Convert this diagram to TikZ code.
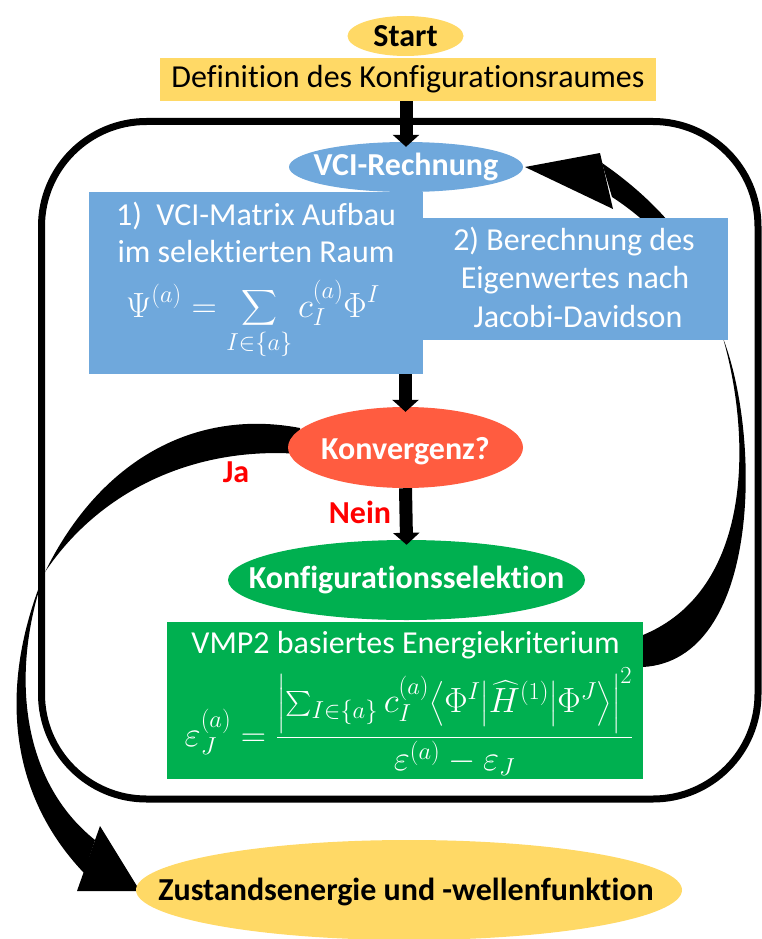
\documentclass[tikz,border=0pt]{standalone}
\usepackage{fix-cm}
\usepackage{amsmath}
\usepackage{fontspec}
\setmainfont{Carlito}[Ligatures={NoCommon,NoContextual},Contextuals={NoAlternate}]
\usetikzlibrary{shapes.geometric,arrows.meta}

\definecolor{gold}{HTML}{FFD966}
\definecolor{skyblue}{HTML}{6FA8DC}
\definecolor{coral}{HTML}{FF5C40}
\definecolor{leaf}{HTML}{00B050}

\tikzset{
  big/.style={font=\fontsize{32}{38}\selectfont},
  bigbold/.style={font=\fontsize{32}{38}\selectfont\bfseries},
  mathbig/.style={font=\fontsize{35}{40}\selectfont},
  oval/.style={ellipse, inner sep=0pt},
  panel/.style={rectangle, inner sep=0pt},
  line/.style={big, inner sep=0pt, anchor=base},
  title/.style={bigbold, inner sep=0pt},
  flow/.style={line width=13pt, shorten >=-5pt, -{Triangle[width=26pt,length=12pt]}},
  band/.style={fill=black, draw=none},
  answer/.style={bigbold, text=red, inner sep=0pt},
}

\begin{document}
\begin{tikzpicture}[x=1pt,y=-1pt]
\useasboundingbox (0,0) rectangle (762,939);

% outer loop frame
\draw[line width=7pt, rounded corners=105pt] (41.5,121.5) rectangle (758,799);

% "Ja" exit arrow: two tapered crescents and a head
\fill[band] (300,428) .. controls (195,408) and (100,460) .. (45,572)
            .. controls (100,490) and (195,446) .. (300,454) -- cycle;
\fill[band] (45,572) .. controls (0,680) and (5,790) .. (84,873)
            -- (95,840) .. controls (20,780) and (10,670) .. (45,572) -- cycle;
\fill[band] (100,826) -- (140,891) -- (77,891) -- cycle;

% feedback arrow back to the VCI step
\fill[band] (643,667) .. controls (760,660) and (762,440) .. (723,338)
            .. controls (752,440) and (752,590) .. (643,635) -- cycle;
\fill[band] (602,163) .. controls (670,210) and (715,270) .. (723,338)
            .. controls (705,280) and (660,228) .. (612,197) -- cycle;
\fill[band] (525,167) -- (600,153) -- (613,209) -- cycle;

% start and set-up
\node[oval, fill=gold, minimum width=116pt, minimum height=40pt] (start) at (405.5,36) {};
\node[title] (starttext) at (start.center) {Start};
\node[panel, fill=gold, minimum width=496pt, minimum height=43pt, big] (defn) at (408,79.5) {Definition des Konfigurationsraumes};

% VCI step
\node[panel, fill=skyblue, minimum width=334pt, minimum height=182pt] (box1) at (256,283) {};
\node[panel, fill=skyblue, minimum width=305pt, minimum height=122pt] (box2) at (575.5,279) {};
\node[oval, fill=skyblue, minimum width=234pt, minimum height=50pt] (vci) at (406,167) {};
\node[title, text=white] (vcitext) at (vci.center) {VCI-Rechnung};

\node[line, text=white] (b1l1) at (256,225) {1)~~VCI-Matrix Aufbau};
\node[line, text=white] (b1l2) at (256,262) {im selektierten Raum};
\node[line, mathbig, text=white, inner sep=0pt, anchor=base] (b1f) at (253,317)
  {$\displaystyle \Psi^{(a)} = \sum\limits_{I\in\{a\}} c_I^{(a)}\Phi^I$};

\node[line, text=white] (b2l1) at (574,250) {2) Berechnung des};
\node[line, text=white] (b2l2) at (575,288) {Eigenwertes nach};
\node[line, text=white] (b2l3) at (578,327) {Jacobi-Davidson};

% convergence test
\node[oval, fill=coral, minimum width=235pt, minimum height=81pt] (konv) at (405.5,447.5) {};
\node[title, text=white] (konvtext) at (405.5,451) {Konvergenz?};
\node[answer] (ja) at (236,472) {Ja};
\node[answer] (nein) at (360,512) {Nein};

% configuration selection
\node[oval, fill=leaf, minimum width=357pt, minimum height=80pt] (sel) at (406.5,580) {};
\node[title, text=white] (seltext) at (sel.center) {Konfigurationsselektion};
\node[panel, fill=leaf, minimum width=476pt, minimum height=157pt] (crit) at (405,700.5) {};
\node[line, text=white] (critl) at (405.5,653) {VMP2 basiertes Energiekriterium};
\node[mathbig, text=white, inner sep=0pt, anchor=base] (critf) at (409,746)
  {$\displaystyle \varepsilon_J^{(a)} = \frac{\left|\sum_{I\in\{a\}} c_I^{(a)} \big\langle \Phi^I \big| \widehat{H}^{(1)} \big| \Phi^J \big\rangle\right|^2}{\varepsilon^{(a)} - \varepsilon_J}$};

% final result
\node[oval, fill=gold, minimum width=546pt, minimum height=100pt] (result) at (409,890) {};
\node[title] (resulttext) at (406,892) {Zustandsenergie und -wellenfunktion};

% straight flow arrows
\draw[flow] (vci.north |- defn.south) -- (vci.north);
\draw[flow] (konv.north |- box1.south) -- (konv.north);
\draw[flow] (konv.south) -- (sel.north);
\end{tikzpicture}
\end{document}
